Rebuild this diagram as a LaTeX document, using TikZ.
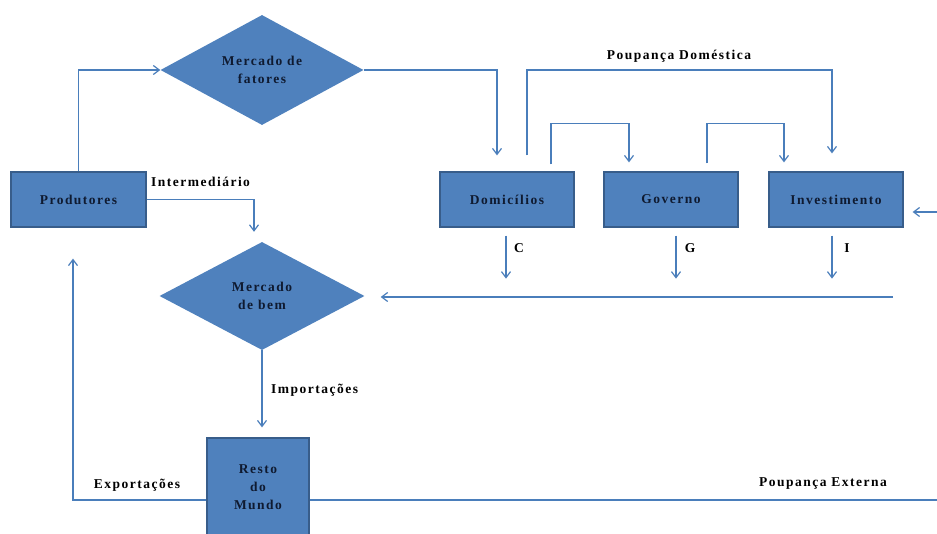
\documentclass[tikz,border=0pt]{standalone}
\usepackage{fontspec}
\setmainfont{Liberation Serif}
\usetikzlibrary{shapes.geometric,arrows.meta}

\definecolor{boxfill}{HTML}{4F81BD}
\definecolor{boxedge}{HTML}{385D8A}
\definecolor{flow}{HTML}{4A7EBB}
\definecolor{inktext}{HTML}{0F1A30}

\newcommand{\lbl}{\bfseries\addfontfeatures{LetterSpace=11}\fontsize{13.5}{18}\selectfont}

\tikzset{
  x=1pt, y=-1pt,
  block/.style={rectangle, draw=boxedge, line width=1.2pt, fill=boxfill,
    minimum width=134pt, minimum height=55pt, inner sep=2pt,
    font=\lbl, text=inktext, align=center},
  market/.style={diamond, fill=boxfill, draw=none, inner sep=0pt,
    font=\lbl, text=inktext, align=center},
  arr/.style={draw=flow, line width=1.3pt,
    -{Straight Barb[length=6pt,width=9pt,line width=1.2pt]}},
  tag/.style={font=\lbl, text=black, inner sep=0pt}
}

\begin{document}
\begin{tikzpicture}
\useasboundingbox (0,0) rectangle (937,534);

% agents and markets
\node[block, minimum width=135pt] (prod) at (78.5,199.5) {Produtores};
\node[market, minimum width=203pt, minimum height=110pt] (mf) at (262,70) {Mercado de\\fatores};
\node[market, minimum width=205pt, minimum height=108pt] (mb) at (262,296) {Mercado\\de bem};
\node[block] (dom) at (507,199.5) {Domicílios};
\node[block] (gov) at (671,199.5) {Governo};
\node[block] (inv) at (836,199.5) {Investimento};
\node[block, minimum width=102pt, minimum height=99pt] (rm) at (258,487.5) {Resto\\do\\Mundo};

% factor market flows
\draw[arr] (prod.north) |- (mf.west);
\draw[arr] (mf.east) -| ([xshift=-10pt,yshift=16pt]dom.north);

% intermediate goods
\draw[arr] (prod.east) -| ([xshift=-8pt,yshift=10pt]mb.north);
\node[tag, anchor=west] (tint) at (151,182) {Intermediário};

% domestic savings
\coordinate (ps) at ([xshift=20pt,yshift=16pt]dom.north);
\coordinate (pe) at ([xshift=-4pt,yshift=18pt]inv.north);
\draw[arr] (ps) -- (ps |- mf.east) -| (pe);
\node[tag] (tpd) at (679,56) {Poupança Doméstica};

% transfers between agents
\coordinate (dg) at ([xshift=44pt,yshift=7pt]dom.north);
\draw[arr] (dg) -- ++(0,-41) -| ([xshift=-42pt,yshift=9pt]gov.north);
\coordinate (gi) at ([xshift=36pt,yshift=8pt]gov.north);
\draw[arr] (gi) -- ++(0,-40) -| ([xshift=-52pt,yshift=9pt]inv.north);

% final demand C, G, I
\draw[arr] ([xshift=-1pt,yshift=-8pt]dom.south) -- ++(0,43);
\node[tag] (tc) at (519,248) {C};
\draw[arr] ([xshift=5pt,yshift=-8pt]gov.south) -- ++(0,43);
\node[tag] (tg) at (690,248) {G};
\draw[arr] ([xshift=-4pt,yshift=-8pt]inv.south) -- ++(0,43);
\node[tag] (ti) at (847,248) {I};

% aggregate demand into goods market
\coordinate (sum) at (893,297);
\draw[arr, shorten >=16pt] (sum) -- (sum -| mb.east);

% imports
\draw[arr, shorten >=10pt] (mb.south) -- (mb.south |- rm.north);
\node[tag, anchor=west] (timp) at (271,390) {Importações};

% exports
\draw[arr] ([yshift=-12.5pt]rm.west) -| ([xshift=-5.5pt,yshift=-31pt]prod.south);
\node[tag] (texp) at (137,485) {Exportações};

% external savings
\draw[arr] ([yshift=-12.5pt]rm.east) -| ([xshift=47pt,yshift=-12.5pt]inv.east) -- ([xshift=9pt,yshift=-12.5pt]inv.east);
\node[tag] (tpe) at (823,484) {Poupança Externa};
\end{tikzpicture}
\end{document}
